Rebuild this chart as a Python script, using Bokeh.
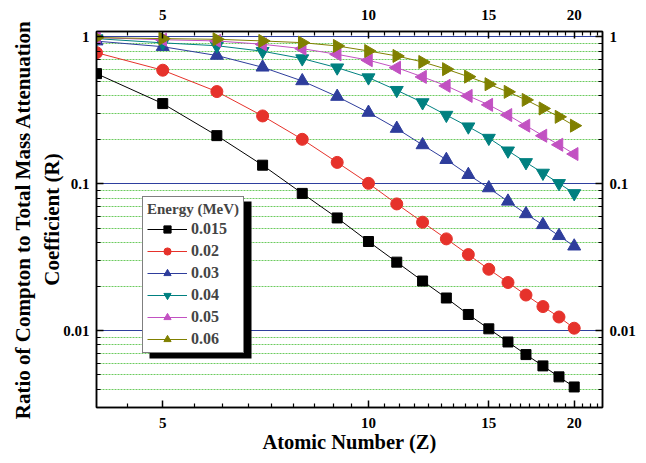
from bokeh.plotting import figure
from bokeh.models import FixedTicker, LogAxis, BoxAnnotation
from bokeh.embed import file_html
from bokeh.resources import INLINE
import math

# ---------------- data ----------------
Z = list(range(4, 21))
r_0015 = [0.563, 0.352, 0.213, 0.134, 0.0861, 0.0586, 0.0405, 0.0293, 0.0218, 0.0167,
          0.0129, 0.0103, 0.00838, 0.00688, 0.00576, 0.00485, 0.00414]
r_002 = [0.782, 0.594, 0.425, 0.290, 0.201, 0.140, 0.1008, 0.0730, 0.0548, 0.0422,
         0.0330, 0.0262, 0.0213, 0.0175, 0.0146, 0.0124, 0.0104]
r_003 = [0.937, 0.859, 0.748, 0.622, 0.502, 0.393, 0.306, 0.238, 0.184, 0.146,
         0.1154, 0.0937, 0.0760, 0.0624, 0.0526, 0.0443, 0.0376]
r_004 = [0.975, 0.912, 0.872, 0.800, 0.713, 0.618, 0.529, 0.434, 0.358, 0.294,
         0.245, 0.205, 0.168, 0.140, 0.1186, 0.1008, 0.0861]
r_005 = [0.99, 0.958, 0.94, 0.892, 0.833, 0.762, 0.695, 0.618, 0.535, 0.465,
         0.397, 0.345, 0.294, 0.249, 0.2126, 0.1846, 0.1596]
r_006 = [0.99, 0.975, 0.965, 0.94, 0.915, 0.869, 0.803, 0.743, 0.676, 0.604,
         0.537, 0.477, 0.423, 0.373, 0.326, 0.286, 0.249]

energies = ["0.015", "0.02", "0.03", "0.04", "0.05", "0.06"]
x_ticks = [5, 10, 15, 20]
x_tick_labels = ["5", "10", "15", "20"]
y_ticks = [0.01, 0.1, 1]
y_tick_labels = ["0.01", "0.1", "1"]

series = [r_0015, r_002, r_003, r_004, r_005, r_006]
colors = ["#000000", "#E6322B", "#2E3D9C", "#008080", "#C251C2", "#808000"]
markers = ["square", "circle", "triangle", "inverted_triangle", "triangle", "triangle"]
angles = [0, 0, 0, 0, math.pi / 2, -math.pi / 2]
sizes = [10, 12, 13, 13, 13, 13]

FONT = "Liberation Serif"
X0, X1 = 4, 22
Y0, Y1 = 0.003, 1.09

W, H = 640, 455
MB_L, MB_T = 96, 31
MB_R = W - 602
MB_B = H - 407

p = figure(width=W, height=H, x_axis_type="log", y_axis_type="log",
           x_range=(X0, X1), y_range=(Y0, Y1),
           output_backend="svg", toolbar_location=None,
           min_border_left=MB_L, min_border_right=MB_R,
           min_border_top=MB_T, min_border_bottom=MB_B)
p.outline_line_color = "black"
p.outline_line_width = 1.5

x_minor = [k * 5 / 9 for k in range(8, 40) if k % 9]
y_minor = [m * 10.0 ** e for e in (-3, -2, -1) for m in range(2, 10)]

def xticker():
    return FixedTicker(ticks=x_ticks, minor_ticks=x_minor)

def yticker():
    return FixedTicker(ticks=y_ticks, minor_ticks=y_minor)

def style_axis(ax, labels):
    ax.major_label_overrides = labels
    ax.major_label_text_font = FONT
    ax.major_label_text_font_style = "bold"
    ax.major_label_text_font_size = "15px"
    ax.major_label_text_color = "black"
    ax.axis_line_width = 1.5
    ax.major_tick_in = 7
    ax.major_tick_out = 0
    ax.minor_tick_in = 4
    ax.minor_tick_out = 0
    ax.major_tick_line_width = 1.5
    ax.minor_tick_line_width = 1.2
    ax.axis_label_text_font = FONT
    ax.axis_label_text_font_style = "bold"
    ax.axis_label_text_color = "black"

xl = {v: s for v, s in zip(x_ticks, x_tick_labels)}
yl = {v: s for v, s in zip(y_ticks, y_tick_labels)}

p.xaxis.ticker = xticker()
p.yaxis.ticker = yticker()
style_axis(p.xaxis[0], xl)
style_axis(p.yaxis[0], yl)
p.xaxis.axis_label = "Atomic Number (Z)"
p.yaxis.axis_label = "Ratio of Compton to Total Mass Attenuation\nCoefficient (R)"
p.xaxis.axis_label_text_font_size = "20.5px"
p.yaxis.axis_label_text_font_size = "21px"
p.xaxis.major_label_standoff = 10
p.xaxis.axis_label_standoff = 0
p.yaxis.major_label_standoff = 7
p.yaxis.axis_label_standoff = -4

top = LogAxis(ticker=xticker())
style_axis(top, xl)
top.major_label_standoff = 12
p.add_layout(top, "above")
right = LogAxis(ticker=yticker())
style_axis(right, yl)
right.major_label_standoff = 7
p.add_layout(right, "right")

p.xgrid.visible = False
p.ygrid.grid_line_color = "#2E3F9E"
p.ygrid.grid_line_width = 1
p.ygrid.minor_grid_line_color = "#6CCB5F"
p.ygrid.minor_grid_line_dash = "2 1"
p.ygrid.minor_grid_line_width = 1

# legend shadow (decoration), placed in frame pixels relative to legend
FW = W - MB_L - MB_R
FH = H - MB_T - MB_B
LEG_X, LEG_Y = 46, 54          # legend bottom-left, frame px
LEG_W, LEG_H = 102, 157
SH_X, SH_Y = 7, 5

def fx(px):
    return X0 * (X1 / X0) ** (px / FW)

def fy(py):
    return Y0 * (Y1 / Y0) ** (py / FH)

shadow = BoxAnnotation(left=fx(LEG_X + SH_X), right=fx(LEG_X + LEG_W + SH_X),
                       bottom=fy(LEG_Y - SH_Y), top=fy(LEG_Y + LEG_H - SH_Y),
                       fill_color="black", fill_alpha=1, line_color=None)
p.add_layout(shadow)

for vals, c, m, a, s, lab in zip(series, colors, markers, angles, sizes, energies):
    p.line(Z, vals, line_color=c, line_width=1, legend_label=lab)
    p.scatter(Z, vals, marker=m, angle=a, size=s, fill_color=c, line_color=c,
              legend_label=lab)

lg = p.legend[0]
lg.location = (LEG_X, LEG_Y)
lg.title = "Energy (MeV)"
lg.title_text_font = FONT
lg.title_text_font_style = "bold"
lg.title_text_font_size = "15px"
lg.title_standoff = 2
lg.label_text_font = FONT
lg.label_text_font_style = "bold"
lg.label_text_font_size = "16px"
lg.label_height = 18
lg.glyph_height = 18
lg.glyph_width = 40
lg.label_standoff = 4
lg.spacing = 4
lg.padding = 4
lg.margin = 0
lg.border_line_color = "black"
lg.border_line_width = 1.5
lg.background_fill_color = "white"
lg.background_fill_alpha = 1

open("out.html", "w").write(file_html(p, INLINE))
